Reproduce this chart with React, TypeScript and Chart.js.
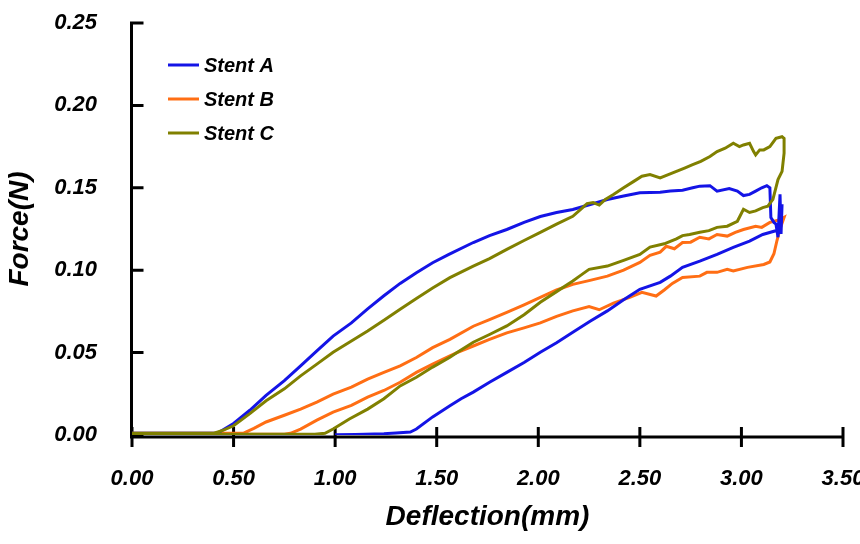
import React, { useEffect, useRef } from 'react';
import { Chart, registerables } from 'chart.js';

Chart.register(...registerables);

const seriesNames = ['Stent A', 'Stent B', 'Stent C'];
const seriesColors = ['#1414E6', '#FF6E14', '#808000'];

// Stent A: loading then unloading path
const stentAX = [0.0, 0.2, 0.42, 0.5, 0.58, 0.66, 0.75, 0.83, 0.91, 0.99, 1.08, 1.16, 1.24, 1.32, 1.4, 1.48, 1.56, 1.68, 1.76, 1.845, 1.93, 2.01, 2.09, 2.17, 2.26, 2.34, 2.42, 2.5, 2.6, 2.65, 2.71, 2.76, 2.795, 2.845, 2.88, 2.94, 2.98, 3.01, 3.04, 3.07, 3.1, 3.125, 3.14, 3.145, 3.16, 3.17, 3.18, 3.19, 3.195, 3.2, 3.19, 3.105, 3.04, 2.96, 2.88, 2.795, 2.71, 2.65, 2.6, 2.5, 2.42, 2.34, 2.255, 2.17, 2.09, 2.01, 1.93, 1.845, 1.76, 1.68, 1.62, 1.565, 1.48, 1.4, 1.37, 1.3, 1.24, 1.1, 1.0];
const stentAY = [0.001, 0.001, 0.001, 0.007, 0.015, 0.024, 0.033, 0.042, 0.051, 0.06, 0.068, 0.0765, 0.0845, 0.092, 0.0985, 0.1045, 0.1096, 0.1168, 0.121, 0.1247, 0.129, 0.1326, 0.135, 0.1368, 0.14, 0.1429, 0.145, 0.147, 0.1473, 0.148, 0.1485, 0.15, 0.151, 0.1513, 0.148, 0.1495, 0.148, 0.1453, 0.146, 0.148, 0.15, 0.1513, 0.15, 0.132, 0.129, 0.128, 0.12, 0.146, 0.122, 0.14, 0.1247, 0.1217, 0.1176, 0.1138, 0.1096, 0.1055, 0.1017, 0.0964, 0.0926, 0.0884, 0.082, 0.0753, 0.069, 0.0623, 0.056, 0.0502, 0.044, 0.038, 0.032, 0.026, 0.022, 0.0177, 0.011, 0.0036, 0.0018, 0.0012, 0.0008, 0.0003, 0.0002];

// Stent B
const stentBX = [0.0, 0.3, 0.547, 0.6, 0.66, 0.75, 0.83, 0.91, 0.99, 1.08, 1.16, 1.24, 1.32, 1.4, 1.48, 1.565, 1.68, 1.76, 1.845, 1.93, 2.01, 2.09, 2.17, 2.26, 2.34, 2.42, 2.5, 2.55, 2.6, 2.63, 2.67, 2.71, 2.75, 2.795, 2.84, 2.88, 2.93, 2.97, 3.01, 3.07, 3.1, 3.14, 3.19, 3.21, 3.19, 3.175, 3.16, 3.14, 3.11, 3.03, 2.96, 2.93, 2.88, 2.83, 2.795, 2.71, 2.66, 2.62, 2.58, 2.51, 2.45, 2.37, 2.3, 2.25, 2.17, 2.09, 2.01, 1.93, 1.845, 1.76, 1.68, 1.6, 1.565, 1.48, 1.4, 1.32, 1.24, 1.16, 1.08, 0.99, 0.91, 0.83, 0.78, 0.75, 0.5, 0.0];
const stentBY = [0.001, 0.001, 0.001, 0.004, 0.0079, 0.012, 0.0157, 0.02, 0.0248, 0.029, 0.0339, 0.038, 0.042, 0.047, 0.053, 0.058, 0.066, 0.07, 0.0744, 0.079, 0.0835, 0.088, 0.0914, 0.094, 0.0964, 0.1, 0.1047, 0.109, 0.111, 0.1145, 0.113, 0.1168, 0.117, 0.12, 0.119, 0.1217, 0.1207, 0.123, 0.1247, 0.1267, 0.126, 0.129, 0.1307, 0.132, 0.125, 0.118, 0.11, 0.105, 0.1035, 0.1017, 0.0995, 0.1005, 0.0987, 0.0987, 0.0964, 0.0956, 0.092, 0.088, 0.0843, 0.0866, 0.0835, 0.08, 0.076, 0.078, 0.0753, 0.072, 0.068, 0.065, 0.062, 0.058, 0.054, 0.05, 0.048, 0.043, 0.038, 0.032, 0.027, 0.023, 0.018, 0.0139, 0.009, 0.0036, 0.001, 0.0005, 0.0005, 0.0005];

// Stent C
const stentCX = [0.0, 0.2, 0.4, 0.45, 0.5, 0.58, 0.66, 0.75, 0.83, 0.91, 0.99, 1.08, 1.16, 1.24, 1.32, 1.4, 1.48, 1.565, 1.68, 1.76, 1.845, 1.93, 2.01, 2.09, 2.17, 2.21, 2.24, 2.27, 2.3, 2.33, 2.37, 2.42, 2.47, 2.51, 2.55, 2.6, 2.64, 2.68, 2.72, 2.76, 2.8, 2.845, 2.88, 2.92, 2.96, 2.99, 3.01, 3.04, 3.06, 3.07, 3.09, 3.11, 3.14, 3.17, 3.2, 3.21, 3.21, 3.2, 3.18, 3.155, 3.13, 3.105, 3.07, 3.04, 3.01, 2.98, 2.93, 2.88, 2.84, 2.795, 2.745, 2.71, 2.68, 2.62, 2.55, 2.5, 2.42, 2.34, 2.25, 2.21, 2.17, 2.09, 2.01, 1.93, 1.845, 1.76, 1.68, 1.6, 1.565, 1.48, 1.4, 1.32, 1.24, 1.16, 1.07, 0.99, 0.95, 0.9, 0.5, 0.0];
const stentCY = [0.001, 0.001, 0.001, 0.003, 0.0056, 0.013, 0.0208, 0.028, 0.0359, 0.043, 0.0502, 0.057, 0.0631, 0.0697, 0.0763, 0.0828, 0.0892, 0.0955, 0.1025, 0.107, 0.1126, 0.118, 0.1229, 0.128, 0.1327, 0.137, 0.1404, 0.141, 0.1395, 0.143, 0.1459, 0.15, 0.1539, 0.157, 0.158, 0.156, 0.158, 0.16, 0.162, 0.164, 0.166, 0.169, 0.172, 0.174, 0.177, 0.175, 0.176, 0.177, 0.172, 0.17, 0.173, 0.173, 0.175, 0.18, 0.181, 0.18, 0.171, 0.16, 0.155, 0.143, 0.1388, 0.138, 0.136, 0.135, 0.137, 0.1297, 0.1267, 0.126, 0.124, 0.123, 0.1217, 0.121, 0.119, 0.116, 0.114, 0.1096, 0.106, 0.1025, 0.1005, 0.097, 0.0934, 0.087, 0.0805, 0.073, 0.0662, 0.061, 0.0563, 0.05, 0.0472, 0.0412, 0.035, 0.0298, 0.022, 0.0157, 0.0097, 0.0036, 0.001, 0.0005, 0.0005, 0.0005];

const xAxisTitle = 'Deflection(mm)';
const yAxisTitle = 'Force(N)';
const X_MIN = 0;
const X_MAX = 3.5;
const X_STEP = 0.5;
const Y_MIN = 0;
const Y_MAX = 0.25;
const Y_STEP = 0.05;

const FONT = '"Liberation Sans", Arial, sans-serif';

const axesPlugin = {
  id: 'customAxes',
  beforeDatasetsDraw(chart: any) {
    const { ctx, scales } = chart;
    const x = scales.x;
    const y = scales.y;
    const xl = x.getPixelForValue(X_MIN) - 0.5;
    const y0 = y.getPixelForValue(Y_MIN) + 2;
    const yTop = y.getPixelForValue(Y_MAX);
    const xr = x.getPixelForValue(X_MAX);
    ctx.save();
    ctx.strokeStyle = '#000';
    ctx.lineWidth = 3;
    ctx.lineCap = 'butt';
    ctx.beginPath();
    ctx.moveTo(xl, yTop - 1.5);
    ctx.lineTo(xl, y0 + 1.5);
    ctx.moveTo(xl - 1.5, y0);
    ctx.lineTo(xr + 1.5, y0);
    y.ticks.forEach((t: any) => {
      const py = y.getPixelForValue(t.value);
      ctx.moveTo(xl, py);
      ctx.lineTo(xl + 12, py);
    });
    x.ticks.forEach((t: any) => {
      const px = x.getPixelForValue(t.value);
      ctx.moveTo(px, y0 - 10);
      ctx.lineTo(px, y0 + 10);
    });
    ctx.stroke();
    ctx.restore();
  },
};

const legendPlugin = {
  id: 'insideLegend',
  afterDraw(chart: any) {
    const { ctx, chartArea } = chart;
    ctx.save();
    chart.data.datasets.forEach((ds: any, i: number) => {
      const yy = chartArea.top + 42 + i * 34;
      ctx.strokeStyle = ds.borderColor;
      ctx.lineWidth = 3;
      ctx.beginPath();
      ctx.moveTo(chartArea.left + 36, yy);
      ctx.lineTo(chartArea.left + 67, yy);
      ctx.stroke();
      ctx.fillStyle = '#000';
      ctx.font = `italic bold 20px ${FONT}`;
      ctx.textAlign = 'left';
      ctx.textBaseline = 'middle';
      ctx.fillText(ds.label, chartArea.left + 72, yy + 1);
    });
    ctx.restore();
  },
};

function makePoints(xs: number[], ys: number[]) {
  return xs.map((x, i) => ({ x, y: ys[i] }));
}

export default function App() {
  const canvasRef = useRef<HTMLCanvasElement | null>(null);

  useEffect(() => {
    const canvas = canvasRef.current;
    if (!canvas) return;
    const xs = [stentAX, stentBX, stentCX];
    const ys = [stentAY, stentBY, stentCY];
    const drawOrder = [1, 2, 0];
    const chart = new Chart(canvas, {
      type: 'scatter',
      data: {
        datasets: seriesNames.map((name, i) => ({
          label: name,
          data: makePoints(xs[i], ys[i]),
          showLine: true,
          borderColor: seriesColors[i],
          backgroundColor: seriesColors[i],
          borderWidth: 3,
          pointRadius: 0,
          tension: 0,
          fill: false,
          order: drawOrder[i],
        })),
      },
      options: {
        responsive: false,
        animation: false,
        events: [],
        layout: { padding: { top: 23, right: 17, left: 0, bottom: 0 } },
        plugins: {
          legend: { display: false },
          tooltip: { enabled: false },
          title: { display: false },
        },
        scales: {
          x: {
            type: 'linear',
            min: X_MIN,
            max: X_MAX,
            grid: { display: false, drawTicks: false },
            border: { display: false },
            ticks: {
              stepSize: X_STEP,
              padding: 31,
              color: '#000',
              maxRotation: 0,
              font: { family: FONT, size: 22, style: 'italic', weight: 'bold' },
              callback: (v: any) => Number(v).toFixed(2),
            },
            title: {
              display: true,
              text: xAxisTitle,
              color: '#000',
              padding: { top: 0, bottom: 10 },
              font: { family: FONT, size: 28, style: 'italic', weight: 'bold' },
            },
            afterFit: (scale: any) => {
              scale.height = 109;
              scale.paddingLeft = 0;
              scale.paddingRight = 0;
            },
          },
          y: {
            type: 'linear',
            min: Y_MIN,
            max: Y_MAX,
            grid: { display: false, drawTicks: false },
            border: { display: false },
            ticks: {
              stepSize: Y_STEP,
              padding: 35,
              color: '#000',
              font: { family: FONT, size: 22, style: 'italic', weight: 'bold' },
              callback: (v: any) => Number(v).toFixed(2),
            },
            title: {
              display: true,
              text: yAxisTitle,
              color: '#000',
              padding: { top: 3, bottom: 0 },
              font: { family: FONT, size: 28, style: 'italic', weight: 'bold' },
            },
            afterFit: (scale: any) => {
              scale.width = 132;
              scale.paddingTop = 0;
              scale.paddingBottom = 0;
            },
          },
        },
      },
      plugins: [axesPlugin, legendPlugin],
    });
    return () => chart.destroy();
  }, []);

  return (
    <div style={{ position: 'fixed', left: 0, top: 0, width: 860, height: 544, background: '#fff' }}>
      <canvas ref={canvasRef} width={860} height={544} style={{ width: 860, height: 544 }} />
    </div>
  );
}
